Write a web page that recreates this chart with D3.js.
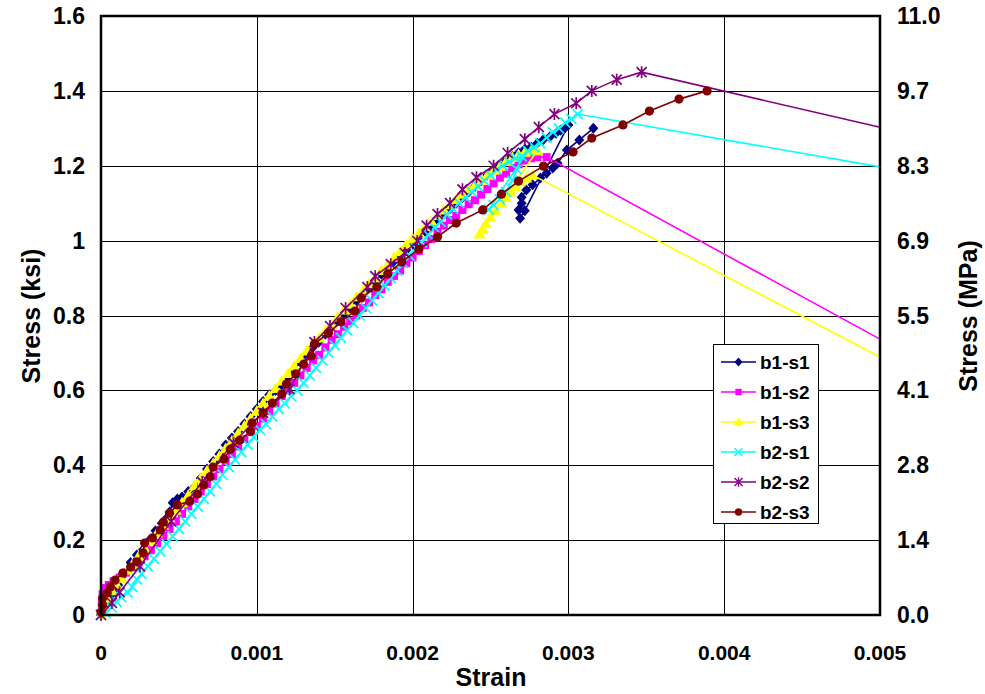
<!DOCTYPE html>
<html>
<head>
<meta charset="utf-8">
<script src="https://cdn.jsdelivr.net/npm/d3@7"></script>
<style>
  body { margin: 0; background: #fff; }
  svg { font-family: Arial, "Liberation Sans", sans-serif; font-weight: bold; }
</style>
</head>
<body>
<svg id="chart" width="985" height="694"></svg>
<script>
// tick values / labels
const strainTicks = [0, 0.001, 0.002, 0.003, 0.004, 0.005];
const strainLabels = ["0", "0.001", "0.002", "0.003", "0.004", "0.005"];
const ksiTicks = [0, 0.2, 0.4, 0.6, 0.8, 1, 1.2, 1.4, 1.6];
const ksiLabels = ["0", "0.2", "0.4", "0.6", "0.8", "1", "1.2", "1.4", "1.6"];
const mpaLabels = ["0.0", "1.4", "2.8", "4.1", "5.5", "6.9", "8.3", "9.7", "11.0"];

// series data: [strain, stress (ksi)]
const b1s1 = [[0,0],[0.00002,0.02],[0.00005,0.04],[0.00008,0.06],[0.00011,0.08],[0.00015,0.11],[0.00019,0.14],[0.00023,0.16],[0.00027,0.175],[0.00031,0.2],[0.00035,0.225],[0.00039,0.245],[0.00042,0.258],[0.00044,0.275],[0.00046,0.3],[0.00049,0.31],[0.00052,0.315],[0.00056,0.33],[0.0006,0.342],[0.00064,0.365],[0.00068,0.39],[0.00072,0.41],[0.00076,0.43],[0.0008,0.454],[0.00084,0.473],[0.00088,0.49],[0.00092,0.51],[0.00096,0.53],[0.001,0.55],[0.00104,0.57],[0.00108,0.588],[0.00112,0.6],[0.00116,0.615],[0.0012,0.635],[0.00124,0.655],[0.00128,0.675],[0.00132,0.695],[0.00136,0.715],[0.0014,0.73],[0.00144,0.75],[0.00148,0.77],[0.00152,0.785],[0.00156,0.805],[0.0016,0.82],[0.00164,0.84],[0.00168,0.855],[0.00172,0.875],[0.00176,0.89],[0.0018,0.91],[0.00184,0.925],[0.00188,0.945],[0.00192,0.96],[0.00196,0.975],[0.002,0.99],[0.00204,1.01],[0.00208,1.025],[0.00212,1.04],[0.00216,1.055],[0.0022,1.07],[0.00224,1.085],[0.00228,1.1],[0.00232,1.115],[0.00236,1.13],[0.0024,1.145],[0.00244,1.16],[0.00248,1.175],[0.00252,1.19],[0.00256,1.2],[0.0026,1.215],[0.00264,1.225],[0.00268,1.235],[0.00272,1.245],[0.00276,1.25],[0.0028,1.26],[0.00284,1.27],[0.00288,1.277],[0.00292,1.287],[0.00295,1.295],[0.00298,1.302],[0.003,1.309],[0.00272,1.08],[0.00269,1.06],[0.00268,1.082],[0.0027,1.1],[0.0027,1.116],[0.00273,1.135],[0.00277,1.149],[0.00282,1.167],[0.00286,1.18],[0.0029,1.194],[0.00293,1.207],[0.00299,1.242],[0.00307,1.269],[0.00316,1.3]];

const b1s2 = [[0,0],[0.000005,0.03],[0.00001,0.055],[0.00002,0.072],[0.00005,0.08],[0.00008,0.09],[0.00012,0.1],[0.00016,0.113],[0.0002,0.127],[0.00024,0.14],[0.00028,0.157],[0.00032,0.173],[0.00036,0.192],[0.0004,0.211],[0.00044,0.23],[0.00048,0.25],[0.00052,0.27],[0.00056,0.29],[0.0006,0.31],[0.00064,0.33],[0.00068,0.35],[0.00072,0.37],[0.00076,0.39],[0.0008,0.41],[0.00084,0.43],[0.00088,0.45],[0.00092,0.47],[0.00096,0.49],[0.001,0.505],[0.00104,0.525],[0.00108,0.545],[0.00112,0.565],[0.00116,0.585],[0.0012,0.6],[0.00124,0.62],[0.00128,0.64],[0.00132,0.66],[0.00136,0.68],[0.0014,0.695],[0.00144,0.715],[0.00148,0.735],[0.00152,0.75],[0.00156,0.77],[0.0016,0.785],[0.00164,0.8],[0.00168,0.82],[0.00172,0.835],[0.00176,0.855],[0.0018,0.87],[0.00184,0.89],[0.00188,0.905],[0.00192,0.92],[0.00196,0.94],[0.002,0.955],[0.00204,0.972],[0.00208,0.988],[0.00212,1.004],[0.00216,1.024],[0.0022,1.04],[0.00224,1.055],[0.00228,1.066],[0.00232,1.082],[0.00236,1.097],[0.0024,1.108],[0.00244,1.123],[0.00248,1.138],[0.00252,1.153],[0.00256,1.168],[0.0026,1.179],[0.00264,1.194],[0.00268,1.204],[0.00272,1.214],[0.00276,1.22],[0.0028,1.223],[0.00286,1.223],[0.005,0.737]];

const b1s3 = [[0,0],[0.00002,0.02],[0.00004,0.045],[0.00007,0.065],[0.0001,0.082],[0.00013,0.098],[0.00017,0.12],[0.0002,0.135],[0.00024,0.157],[0.00028,0.178],[0.00032,0.199],[0.00036,0.22],[0.0004,0.24],[0.00044,0.26],[0.00048,0.28],[0.00052,0.3],[0.00056,0.32],[0.0006,0.345],[0.00064,0.365],[0.00068,0.385],[0.00072,0.405],[0.00076,0.425],[0.0008,0.445],[0.00084,0.465],[0.00088,0.485],[0.00092,0.505],[0.00096,0.525],[0.001,0.545],[0.00104,0.565],[0.00108,0.585],[0.00112,0.605],[0.00116,0.625],[0.0012,0.645],[0.00124,0.665],[0.00128,0.685],[0.00132,0.705],[0.00136,0.725],[0.0014,0.74],[0.00144,0.76],[0.00148,0.775],[0.00152,0.795],[0.00156,0.815],[0.0016,0.83],[0.00164,0.85],[0.00168,0.865],[0.00172,0.885],[0.00176,0.9],[0.0018,0.92],[0.00184,0.935],[0.00188,0.955],[0.00192,0.97],[0.00196,0.99],[0.002,1.005],[0.00204,1.02],[0.00208,1.038],[0.00212,1.052],[0.00216,1.067],[0.0022,1.082],[0.00224,1.096],[0.00228,1.11],[0.00232,1.124],[0.00236,1.138],[0.0024,1.148],[0.00244,1.162],[0.00248,1.175],[0.00252,1.188],[0.00256,1.198],[0.0026,1.212],[0.00264,1.222],[0.00268,1.23],[0.00272,1.236],[0.00276,1.24],[0.0028,1.24],[0.00243,1.018],[0.00245,1.03],[0.00247,1.045],[0.0025,1.063],[0.00253,1.08],[0.00257,1.1],[0.0026,1.115],[0.00263,1.13],[0.00266,1.145],[0.00269,1.157],[0.00273,1.167],[0.00277,1.175],[0.005,0.689]];

const b2s1 = [[0,0],[0.00003,0.005],[0.00007,0.02],[0.0001,0.035],[0.00013,0.048],[0.00017,0.06],[0.0002,0.075],[0.00023,0.095],[0.00026,0.11],[0.0003,0.13],[0.00034,0.15],[0.00038,0.17],[0.00042,0.19],[0.00046,0.21],[0.0005,0.23],[0.00054,0.25],[0.00058,0.27],[0.00062,0.29],[0.00066,0.31],[0.0007,0.33],[0.00074,0.35],[0.00078,0.375],[0.00082,0.395],[0.00086,0.415],[0.0009,0.435],[0.00094,0.455],[0.00098,0.475],[0.00102,0.495],[0.00106,0.51],[0.0011,0.53],[0.00114,0.55],[0.00118,0.565],[0.00122,0.585],[0.00126,0.6],[0.0013,0.62],[0.00134,0.64],[0.00138,0.66],[0.00142,0.68],[0.00146,0.7],[0.0015,0.72],[0.00154,0.74],[0.00158,0.76],[0.00162,0.78],[0.00166,0.8],[0.0017,0.82],[0.00174,0.84],[0.00178,0.86],[0.00182,0.88],[0.00186,0.9],[0.0019,0.92],[0.00194,0.94],[0.00198,0.96],[0.00202,0.98],[0.00206,0.995],[0.0021,1.015],[0.00214,1.035],[0.00218,1.05],[0.00222,1.07],[0.00226,1.085],[0.0023,1.1],[0.00234,1.115],[0.00238,1.13],[0.00242,1.145],[0.00246,1.16],[0.0025,1.175],[0.00254,1.19],[0.00258,1.2],[0.00262,1.21],[0.00266,1.22],[0.0027,1.225],[0.00267,1.19],[0.00264,1.16],[0.0026,1.13],[0.00256,1.11],[0.00252,1.095],[0.00249,1.083],[0.00274,1.24],[0.00278,1.25],[0.00282,1.26],[0.00286,1.275],[0.0029,1.29],[0.00294,1.3],[0.00298,1.315],[0.00302,1.325],[0.00306,1.338],[0.005,1.197]];

const b2s2 = [[0,0],[0.00007,0.032],[0.00012,0.061],[0.00025,0.13],[0.00045,0.25],[0.00065,0.355],[0.00085,0.46],[0.00104,0.54],[0.00121,0.603],[0.00137,0.729],[0.00147,0.772],[0.00157,0.82],[0.00171,0.876],[0.00176,0.905],[0.00186,0.937],[0.00195,0.967],[0.00203,0.999],[0.00209,1.04],[0.00216,1.071],[0.00224,1.1],[0.00232,1.137],[0.00241,1.169],[0.00252,1.2],[0.00261,1.234],[0.00272,1.271],[0.00281,1.303],[0.00291,1.338],[0.00305,1.367],[0.00315,1.4],[0.00331,1.43],[0.00347,1.45],[0.005,1.303]];

const b2s3 = [[0,0.008],[0.00001,0.027],[0.00001,0.045],[0.00004,0.059],[0.00006,0.075],[0.00009,0.093],[0.00014,0.112],[0.00019,0.128],[0.00023,0.142],[0.00027,0.166],[0.00028,0.192],[0.00033,0.206],[0.00038,0.227],[0.0004,0.248],[0.00044,0.272],[0.00049,0.294],[0.00057,0.304],[0.00062,0.323],[0.00066,0.347],[0.0007,0.369],[0.00072,0.395],[0.00079,0.417],[0.00083,0.443],[0.00089,0.467],[0.00096,0.49],[0.00097,0.513],[0.00104,0.54],[0.0011,0.566],[0.00116,0.59],[0.00119,0.617],[0.00125,0.644],[0.0013,0.67],[0.00135,0.692],[0.00137,0.724],[0.00146,0.753],[0.00154,0.783],[0.00163,0.812],[0.00167,0.847],[0.00177,0.876],[0.00184,0.911],[0.00193,0.943],[0.00204,0.977],[0.00216,1.01],[0.00228,1.047],[0.00245,1.082],[0.00257,1.124],[0.00268,1.159],[0.00284,1.199],[0.00303,1.237],[0.00315,1.274],[0.00335,1.309],[0.00352,1.346],[0.00371,1.378],[0.00389,1.4]];

const seriesNames = ["b1-s1", "b1-s2", "b1-s3", "b2-s1", "b2-s2", "b2-s3"];
const seriesData = [b1s1, b1s2, b1s3, b2s1, b2s2, b2s3];
const seriesColors = ["#000080", "#ff00ff", "#ffff00", "#00ffff", "#800080", "#800000"];
const seriesMarkers = ["diamond", "square", "triangle", "x", "star", "circle"];

const svg = d3.select("#chart");
const margin = { left: 101, right: 880, top: 16, bottom: 615 };

const x = d3.scaleLinear().domain([0, 0.005]).range([margin.left, margin.right]);
const y = d3.scaleLinear().domain([0, 1.6]).range([margin.bottom, margin.top]);

// marker shapes (Excel-like sizes)
const markerPaths = {
  diamond: "M0,-5.5L5,0L0,5.5L-5,0Z",
  square: "M-4,-4H4V4H-4Z",
  triangle: "M0,-6L6,4.5H-6Z",
  x: "M-5,-5L5,5M-5,5L5,-5",
  star: "M-5,-5L5,5M-5,5L5,-5M0,-6L0,6"
};

function drawMarker(g, type, color) {
  if (type === "circle") {
    g.append("circle").attr("r", 4.6).attr("fill", color);
  } else if (type === "x" || type === "star") {
    g.append("path").attr("d", markerPaths[type]).attr("fill", "none")
      .attr("stroke", color).attr("stroke-width", 1.7);
  } else {
    g.append("path").attr("d", markerPaths[type]).attr("fill", color);
  }
}

// gridlines
const grid = svg.append("g").attr("class", "grid");
grid.selectAll("line.h").data(ksiTicks.slice(1, -1)).enter().append("line")
  .attr("x1", margin.left).attr("x2", margin.right)
  .attr("y1", d => Math.round(y(d)) + 0.5).attr("y2", d => Math.round(y(d)) + 0.5)
  .attr("stroke", "#000").attr("stroke-width", 1);
grid.selectAll("line.v").data(strainTicks.slice(1, -1)).enter().append("line")
  .attr("y1", margin.top).attr("y2", margin.bottom)
  .attr("x1", d => Math.round(x(d)) + 0.5).attr("x2", d => Math.round(x(d)) + 0.5)
  .attr("stroke", "#000").attr("stroke-width", 1);

// series
const line = d3.line().x(d => x(d[0])).y(d => y(d[1]));
const plot = svg.append("g").attr("class", "series");
seriesData.forEach((data, i) => {
  const g = plot.append("g");
  g.append("path").datum(data).attr("d", line)
    .attr("fill", "none").attr("stroke", seriesColors[i]).attr("stroke-width", 1.6);
  g.selectAll("g.pt").data(data.filter(d => d[0] < 0.005)).enter().append("g")
    .attr("transform", d => `translate(${x(d[0])},${y(d[1])})`)
    .each(function () { drawMarker(d3.select(this), seriesMarkers[i], seriesColors[i]); });
});

// plot frame
svg.append("rect").attr("x", margin.left).attr("y", margin.top)
  .attr("width", margin.right - margin.left).attr("height", margin.bottom - margin.top)
  .attr("fill", "none").attr("stroke", "#000").attr("stroke-width", 2.5);

// left axis labels
svg.append("g").selectAll("text").data(ksiTicks).enter().append("text")
  .attr("x", 85).attr("y", d => y(d)).attr("dy", "0.35em")
  .attr("text-anchor", "end").attr("font-size", 23)
  .text((d, i) => ksiLabels[i]);

// right axis labels
svg.append("g").selectAll("text").data(ksiTicks).enter().append("text")
  .attr("x", 897).attr("y", d => y(d)).attr("dy", "0.35em")
  .attr("text-anchor", "start").attr("font-size", 23)
  .text((d, i) => mpaLabels[i]);

// bottom axis labels
svg.append("g").selectAll("text").data(strainTicks).enter().append("text")
  .attr("x", d => x(d)).attr("y", 660)
  .attr("text-anchor", "middle").attr("font-size", 21)
  .text((d, i) => strainLabels[i]);

// axis titles
svg.append("text").attr("x", 491).attr("y", 686).attr("text-anchor", "middle")
  .attr("font-size", 25).text("Strain");
svg.append("text").attr("transform", "translate(40,316) rotate(-90)")
  .attr("text-anchor", "middle").attr("font-size", 25).text("Stress (ksi)");
svg.append("text").attr("transform", "translate(977,316) rotate(-90)")
  .attr("text-anchor", "middle").attr("font-size", 25).text("Stress (MPa)");

// legend
const legend = svg.append("g").attr("class", "legend");
legend.append("rect").attr("x", 713.5).attr("y", 344.5).attr("width", 105).attr("height", 179)
  .attr("fill", "#fff").attr("stroke", "#000").attr("stroke-width", 1);
seriesNames.forEach((name, i) => {
  const ly = 362 + i * 30;
  const item = legend.append("g");
  item.append("line").attr("x1", 721).attr("x2", 756).attr("y1", ly).attr("y2", ly)
    .attr("stroke", seriesColors[i]).attr("stroke-width", 1.5);
  const m = item.append("g").attr("transform", `translate(738.5,${ly}) scale(0.8)`);
  drawMarker(m, seriesMarkers[i], seriesColors[i]);
  item.append("text").attr("x", 760).attr("y", ly).attr("dy", "0.36em")
    .attr("font-size", 19).text(name);
});
</script>
</body>
</html>
